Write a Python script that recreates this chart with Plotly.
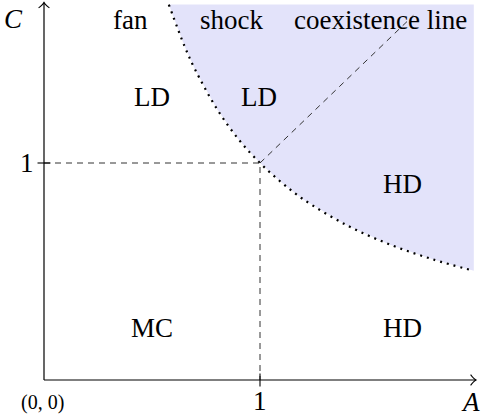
import plotly.graph_objects as go

# Boundary curve: A vs C
curve_A = [0.578, 0.65, 0.7, 0.8, 0.9, 1.0, 1.1, 1.2, 1.4, 1.6, 1.8, 1.99]
curve_C = [1.73, 1.54, 1.43, 1.25, 1.11, 1.0, 0.91, 0.833, 0.714, 0.625, 0.556, 0.503]
# shaded region upper-right corner
shade_top = 1.73
shade_right = 1.99
# coexistence line endpoints
coex_A = [1.0, 1.71]
coex_C = [1.0, 1.68]
# region labels
region_text = ["fan", "shock", "coexistence line", "LD", "LD", "HD", "MC", "HD"]
region_A = [0.40, 0.87, 1.56, 0.50, 0.995, 1.66, 0.50, 1.66]
region_C = [1.66, 1.66, 1.66, 1.305, 1.305, 0.905, 0.24, 0.24]
x_max = 2.0
y_max = 1.74

FONT = "Liberation Serif"
FS = 27

fig = go.Figure()

# shaded region
fill_x = curve_A + [shade_right, curve_A[0]]
fill_y = curve_C + [shade_top, shade_top]
fig.add_trace(go.Scatter(x=fill_x, y=fill_y, fill="toself", fillcolor="#e3e3fa",
                         line=dict(width=0), mode="lines", hoverinfo="skip"))
# dotted boundary
fig.add_trace(go.Scatter(x=curve_A, y=curve_C, mode="lines", line_shape="spline",
                         line=dict(color="black", width=2.2, dash="2px,5px"), hoverinfo="skip"))
# coexistence dashed line
fig.add_trace(go.Scatter(x=coex_A, y=coex_C, mode="lines",
                         line=dict(color="#333", width=1, dash="6px,5px"), hoverinfo="skip"))
# dashed guides at 1
fig.add_trace(go.Scatter(x=[0, 1, 1], y=[1, 1, 0], mode="lines",
                         line=dict(color="#333", width=1, dash="6px,5px"), hoverinfo="skip"))

shapes = []
# axes
shapes.append(dict(type="line", x0=0, y0=0, x1=x_max, y1=0, line=dict(color="black", width=1.2)))
shapes.append(dict(type="line", x0=0, y0=0, x1=0, y1=y_max, line=dict(color="black", width=1.2)))
# arrowheads
shapes.append(dict(type="path", path=f"M {x_max-0.025},0.025 Q {x_max-0.01},0.005 {x_max},0 Q {x_max-0.01},-0.005 {x_max-0.025},-0.025",
                   line=dict(color="black", width=1.1)))
shapes.append(dict(type="path", path=f"M -0.025,{y_max-0.025} Q -0.005,{y_max-0.01} 0,{y_max} Q 0.005,{y_max-0.01} 0.025,{y_max-0.025}",
                   line=dict(color="black", width=1.1)))
# ticks
shapes.append(dict(type="line", x0=-0.03, y0=1, x1=0.03, y1=1, line=dict(color="black", width=1.1)))
shapes.append(dict(type="line", x0=1, y0=-0.03, x1=1, y1=0.03, line=dict(color="black", width=1.1)))

annotations = []
for t, a, c in zip(region_text, region_A, region_C):
    annotations.append(dict(x=a, y=c, text=t, showarrow=False, font=dict(family=FONT, size=FS, color="black")))
annotations += [
    dict(x=-0.14, y=1.665, text="<i>C</i>", showarrow=False, font=dict(family=FONT, size=FS, color="black")),
    dict(x=1.975, y=-0.10, text="<i>A</i>", showarrow=False, font=dict(family=FONT, size=FS, color="black")),
    dict(x=-0.08, y=1.0, text="1", showarrow=False, font=dict(family=FONT, size=FS, color="black")),
    dict(x=1.0, y=-0.095, text="1", showarrow=False, font=dict(family=FONT, size=FS, color="black")),
    dict(x=-0.005, y=-0.105, text="(0, 0)", showarrow=False, font=dict(family=FONT, size=20, color="black")),
]

fig.update_layout(
    width=481, height=420,
    margin=dict(l=0, r=0, t=0, b=0),
    paper_bgcolor="white", plot_bgcolor="white",
    showlegend=False,
    xaxis=dict(range=[-44/216, 437/216], visible=False, fixedrange=True),
    yaxis=dict(range=[-40/217, 380/217], visible=False, fixedrange=True),
    shapes=shapes, annotations=annotations,
)
fig.write_html("out.html", config={"displayModeBar": False},
               post_script="document.body.style.margin='0';document.body.style.overflow='hidden';")
